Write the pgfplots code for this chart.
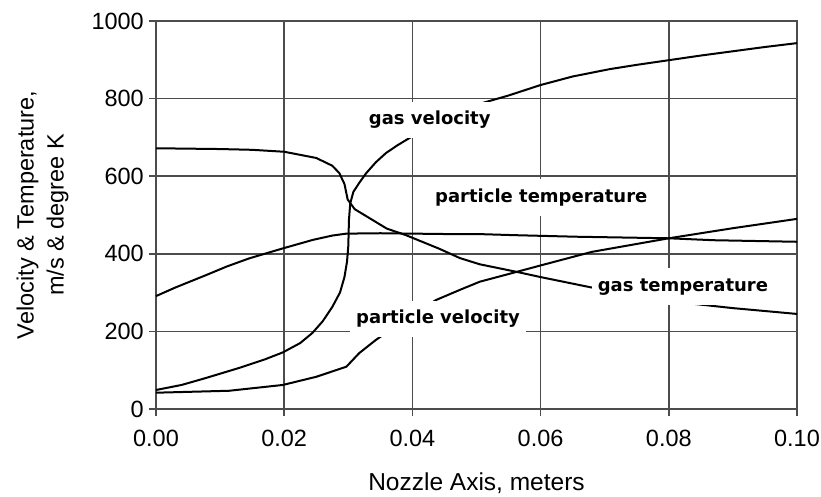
\documentclass[border=0pt]{standalone}
\usepackage{pgfplots}
\pgfplotsset{compat=1.18}
\usepackage{fontspec}
\setmainfont{Liberation Sans}
\newfontfamily\annfont{DejaVu Sans}
\definecolor{gridc}{gray}{0.3}
\begin{document}
\begin{tikzpicture}
\path[use as bounding box] (-156pt,-87pt) rectangle (665pt,409pt);
\begin{axis}[
  at={(0pt,0pt)}, anchor=south west,
  scale only axis, width=641pt, height=388pt,
  xmin=0, xmax=0.1, ymin=0, ymax=1000,
  xtick={0,0.02,0.04,0.06,0.08,0.1},
  xticklabels={0.00,0.02,0.04,0.06,0.08,0.10},
  ytick={0,200,400,600,800,1000},
  yticklabels={0,200,400,600,800,1000},
  scaled x ticks=false, scaled y ticks=false,
  grid=major,
  major grid style={line width=1.5pt, color=gridc},
  axis line style={line width=1.5pt, color=gridc},
  tick style={line width=1.5pt, color=gridc},
  tick align=outside, tick pos=left,
  major tick length=7pt,
  ticklabel style={font=\fontsize{23.5}{28}\selectfont, inner sep=0pt},
  yticklabel style={anchor=east, xshift=-5pt},
  xticklabel style={anchor=north, yshift=-14pt},
  xlabel={Nozzle Axis, meters},
  ylabel={Velocity \& Temperature,\\m/s \& degree K},
  xlabel style={font=\fontsize{24.5}{28}\selectfont, at={(axis description cs:0.5,-0.209)}, anchor=base, inner sep=0pt},
  ylabel style={font=\fontsize{23.5}{30}\selectfont, align=center, at={(axis description cs:-0.136,0.5)}, anchor=south, inner sep=0pt},
  clip=false,
]
% gas velocity
\addplot[black, line width=2pt] coordinates {
(0,49) (0.004,62) (0.0078,80) (0.013,106) (0.017,128) (0.0198,146) (0.0225,170)
(0.0244,196) (0.026,226) (0.0275,263) (0.0287,300) (0.0294,340) (0.0298,380)
(0.0300,420) (0.0301,487) (0.0303,530) (0.0308,560) (0.0318,585) (0.0328,608)
(0.0343,636) (0.0359,660) (0.0377,680) (0.0395,698) (0.0450,748) (0.0508,788)
(0.055,808) (0.060,835) (0.065,857) (0.0708,876) (0.075,887) (0.080,899)
(0.085,911) (0.090,922) (0.095,933) (0.100,943)};
% gas temperature
\addplot[black, line width=2pt] coordinates {
(0,672) (0.01,670) (0.015,668) (0.02,663) (0.025,647) (0.0275,627) (0.0286,608)
(0.0294,580) (0.0299,540) (0.0310,515) (0.0325,500) (0.0338,487) (0.036,465)
(0.039,448) (0.0442,413) (0.0474,389) (0.0505,373) (0.0564,353) (0.060,340)
(0.0677,314) (0.075,292) (0.0828,273) (0.09,260) (0.1,245)};
% particle temperature
\addplot[black, line width=2pt] coordinates {
(0,291) (0.003,313) (0.0078,345) (0.011,367) (0.0145,388) (0.0198,414) (0.0245,436)
(0.0275,447) (0.0297,452) (0.035,453) (0.04,452) (0.045,451) (0.05,451) (0.056,448)
(0.0656,444) (0.08,440) (0.087,435) (0.1,431)};
% particle velocity
\addplot[black, line width=2pt] coordinates {
(0,42) (0.0114,47) (0.0198,62) (0.025,83) (0.0297,109) (0.0317,144) (0.0343,178)
(0.039,232) (0.0437,281) (0.0474,307) (0.0505,328) (0.0564,354) (0.060,370)
(0.068,405) (0.08,440) (0.09,466) (0.1,490)};
\tikzset{lab/.style={fill=white, inner xsep=6pt, inner ysep=9.5pt, text height=13.5pt, text depth=4pt, font=\annfont\bfseries\fontsize{18}{20}\selectfont}}
\node[lab] at (axis cs:0.0427,745) {gas velocity};
\node[lab] at (axis cs:0.0601,545) {particle temperature};
\node[lab] at (axis cs:0.0822,316) {gas temperature};
\node[lab] at (axis cs:0.0440,232) {particle velocity};
\end{axis}
\end{tikzpicture}
\end{document}
